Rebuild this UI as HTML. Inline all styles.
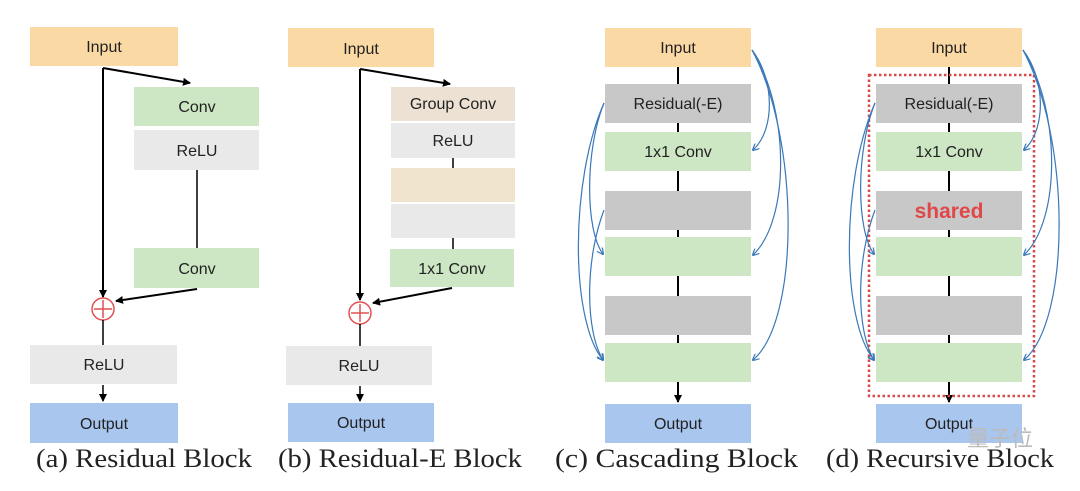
<!DOCTYPE html>
<html><head><meta charset="utf-8"><style>
body{margin:0;background:#fff;}
.sans{font-family:"Liberation Sans",sans-serif;}
.serif{font-family:"Liberation Serif",serif;}
</style></head><body>
<svg width="1080" height="486" viewBox="0 0 1080 486" xmlns="http://www.w3.org/2000/svg">
<defs>
<marker id="ak" markerWidth="8" markerHeight="8" refX="7" refY="4" orient="auto" markerUnits="userSpaceOnUse"><path d="M0,0 L8,4 L0,8 z" fill="#000"/></marker>
<marker id="ab" markerWidth="7" markerHeight="7" refX="6" refY="3.5" orient="auto" markerUnits="userSpaceOnUse"><path d="M0,0 L7,3.5 L0,7" fill="none" stroke="#3a78b8" stroke-width="1.2"/></marker>
</defs>
<g class="sans" font-size="16" text-anchor="middle" fill="#222">
<!-- Panel a -->
<rect x="30" y="27" width="148" height="39" fill="#fbd9a4"/><text x="104" y="52">Input</text>
<rect x="134" y="87" width="125" height="39" fill="#cde6c3"/><text x="197" y="112">Conv</text>
<rect x="134" y="130" width="125" height="40" fill="#e9e9ea"/><text x="197" y="156">ReLU</text>
<line x1="197" y1="170" x2="197" y2="248" stroke="#000" stroke-width="1.5"/>
<rect x="134" y="248" width="125" height="40" fill="#cde6c3"/><text x="197" y="274">Conv</text>
<rect x="30" y="345" width="147" height="39" fill="#e9e9ea"/><text x="104" y="370">ReLU</text>
<rect x="30" y="403" width="148" height="40" fill="#a9c6ef"/><text x="104" y="429">Output</text>
<line x1="103" y1="68" x2="103" y2="297" stroke="#000" stroke-width="2" marker-end="url(#ak)"/>
<line x1="103" y1="68" x2="190" y2="83" stroke="#000" stroke-width="2" marker-end="url(#ak)"/>
<line x1="197" y1="289" x2="116" y2="301" stroke="#000" stroke-width="2" marker-end="url(#ak)"/>
<circle cx="103" cy="309" r="11" fill="#fff" stroke="#e05050" stroke-width="1.5"/>
<line x1="94" y1="309" x2="112" y2="309" stroke="#e05050" stroke-width="1.5"/><line x1="103" y1="300" x2="103" y2="318" stroke="#e05050" stroke-width="1.5"/>
<line x1="103" y1="320" x2="103" y2="345" stroke="#000" stroke-width="1.5"/>
<line x1="103" y1="385" x2="103" y2="401" stroke="#000" stroke-width="1.5" marker-end="url(#ak)"/>
<!-- Panel b -->
<rect x="288" y="28" width="146" height="39" fill="#fbd9a4"/><text x="361" y="54">Input</text>
<rect x="391" y="87" width="124" height="34" fill="#ece1d2"/><text x="453" y="109">Group Conv</text>
<rect x="391" y="123" width="124" height="35" fill="#e9e9ea"/><text x="453" y="146">ReLU</text>
<rect x="391" y="168" width="124" height="34" fill="#f1e4cf"/>
<rect x="391" y="204" width="124" height="34" fill="#e9e9ea"/>
<rect x="390" y="249" width="124" height="38" fill="#cde6c3"/><text x="452" y="274">1x1 Conv</text>
<line x1="453" y1="158" x2="453" y2="168" stroke="#000" stroke-width="1.5"/>
<line x1="453" y1="238" x2="453" y2="249" stroke="#000" stroke-width="1.5"/>
<rect x="286" y="346" width="146" height="39" fill="#e9e9ea"/><text x="359" y="371">ReLU</text>
<rect x="288" y="403" width="146" height="39" fill="#a9c6ef"/><text x="361" y="428">Output</text>
<line x1="360" y1="69" x2="360" y2="300" stroke="#000" stroke-width="2" marker-end="url(#ak)"/>
<line x1="360" y1="69" x2="450" y2="84" stroke="#000" stroke-width="2" marker-end="url(#ak)"/>
<line x1="452" y1="288" x2="373" y2="303" stroke="#000" stroke-width="2" marker-end="url(#ak)"/>
<circle cx="360" cy="313" r="11" fill="#fff" stroke="#e05050" stroke-width="1.5"/>
<line x1="351" y1="313" x2="369" y2="313" stroke="#e05050" stroke-width="1.5"/><line x1="360" y1="304" x2="360" y2="322" stroke="#e05050" stroke-width="1.5"/>
<line x1="360" y1="324" x2="360" y2="346" stroke="#000" stroke-width="1.5"/>
<line x1="360" y1="386" x2="360" y2="401" stroke="#000" stroke-width="1.5" marker-end="url(#ak)"/>
<!-- Panel c -->
<line x1="678" y1="67" x2="678" y2="402" stroke="#000" stroke-width="2" marker-end="url(#ak)"/>
<rect x="605" y="28" width="146" height="39" fill="#fbd9a4"/><text x="678" y="53">Input</text>
<rect x="605" y="84" width="146" height="39" fill="#c8c8c9"/><text x="678" y="109">Residual(-E)</text>
<rect x="605" y="132" width="146" height="39" fill="#cde6c3"/><text x="678" y="157">1x1 Conv</text>
<rect x="605" y="191" width="146" height="39" fill="#c8c8c9"/>
<rect x="605" y="237" width="146" height="39" fill="#cde6c3"/>
<rect x="605" y="296" width="146" height="39" fill="#c8c8c9"/>
<rect x="605" y="343" width="146" height="39" fill="#cde6c3"/>
<rect x="605" y="404" width="146" height="39" fill="#a9c6ef"/><text x="678" y="429">Output</text>
<g fill="none" stroke="#3a78b8" stroke-width="1.2" marker-end="url(#ab)">
<path d="M752,50 C775,80 775,130 753,150"/>
<path d="M752,50 C790,110 790,220 753,255"/>
<path d="M752,50 C800,140 800,320 753,360"/>
<path d="M604,103 C585,150 585,230 603,254"/>
<path d="M604,103 C570,180 570,320 603,360"/>
<path d="M604,210 C585,260 585,330 603,360"/>
</g>
<!-- Panel d -->
<line x1="949" y1="67" x2="949" y2="402" stroke="#000" stroke-width="2" marker-end="url(#ak)"/>
<rect x="876" y="28" width="146" height="39" fill="#fbd9a4"/><text x="949" y="53">Input</text>
<rect x="876" y="84" width="146" height="39" fill="#c8c8c9"/><text x="949" y="109">Residual(-E)</text>
<rect x="876" y="132" width="146" height="39" fill="#cde6c3"/><text x="949" y="157">1x1 Conv</text>
<rect x="876" y="191" width="146" height="39" fill="#c8c8c9"/><text x="949" y="218" fill="#e04848" font-weight="bold" font-size="21">shared</text>
<rect x="876" y="237" width="146" height="39" fill="#cde6c3"/>
<rect x="876" y="296" width="146" height="39" fill="#c8c8c9"/>
<rect x="876" y="343" width="146" height="39" fill="#cde6c3"/>
<rect x="876" y="404" width="146" height="39" fill="#a9c6ef"/><text x="949" y="429">Output</text>
<rect x="869" y="75" width="165" height="321" fill="none" stroke="#d84a4a" stroke-width="2.5" stroke-dasharray="2.5,2.5"/>
<g fill="none" stroke="#3a78b8" stroke-width="1.2" marker-end="url(#ab)">
<path d="M1023,50 C1046,80 1046,130 1024,150"/>
<path d="M1023,50 C1061,110 1061,220 1024,255"/>
<path d="M1023,50 C1071,140 1071,320 1024,360"/>
<path d="M875,103 C856,150 856,230 874,254"/>
<path d="M875,103 C841,180 841,320 874,360"/>
<path d="M875,210 C856,260 856,330 874,360"/>
</g>
</g>
<g class="serif" font-size="26" fill="#222">
<text x="36" y="467" textLength="216" lengthAdjust="spacingAndGlyphs">(a) Residual Block</text>
<text x="278" y="467" textLength="244" lengthAdjust="spacingAndGlyphs">(b) Residual-E Block</text>
<text x="555" y="467" textLength="243" lengthAdjust="spacingAndGlyphs">(c)  Cascading Block</text>
<text x="826" y="467" textLength="228" lengthAdjust="spacingAndGlyphs">(d) Recursive Block</text>
</g>
<text x="967" y="446" style="font-family:'Liberation Sans','Noto Sans CJK SC',sans-serif" font-size="22" fill="#bbb">量子位</text>
</svg>
</body></html>
